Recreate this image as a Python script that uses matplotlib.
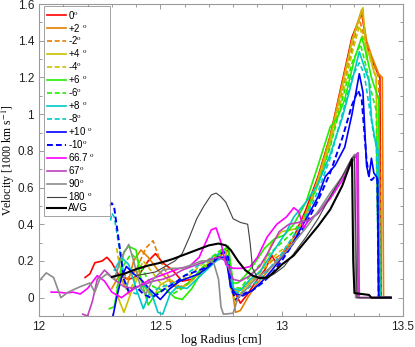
import matplotlib
matplotlib.use("Agg")
import matplotlib.pyplot as plt
from matplotlib.ticker import MultipleLocator, FuncFormatter

# ---- data (log radius [cm], velocity [1000 km/s]) ----
x_p0 = [12.19, 12.21, 12.23, 12.26, 12.28, 12.30, 12.33, 12.37, 12.41, 12.45, 12.48, 12.51, 12.55, 12.59, 12.63, 12.67, 12.71, 12.75, 12.78, 12.80, 12.83, 12.86, 12.90, 12.93, 12.96, 12.98, 13.00, 13.05, 13.10, 13.15, 13.20, 13.25, 13.29, 13.33, 13.35, 13.37, 13.39, 13.405, 13.41, 13.45]
y_p0 = [0.11, 0.13, 0.19, 0.20, 0.22, 0.19, 0.12, 0.10, 0.12, 0.20, 0.24, 0.19, 0.15, 0.09, 0.10, 0.15, 0.20, 0.24, 0.26, 0.05, -0.03, 0.02, 0.10, 0.15, 0.23, 0.18, 0.22, 0.33, 0.48, 0.66, 0.88, 1.18, 1.42, 1.55, 1.38, 1.30, 1.24, 1.20, 0.0, 0.0]

x_p2 = [12.30, 12.33, 12.36, 12.39, 12.42, 12.45, 12.49, 12.53, 12.57, 12.61, 12.65, 12.70, 12.74, 12.77, 12.79, 12.81, 12.83, 12.86, 12.90, 12.94, 12.98, 13.02, 13.06, 13.10, 13.15, 13.20, 13.25, 13.29, 13.33, 13.35, 13.37, 13.40, 13.415, 13.42, 13.45]
y_p2 = [0.05, 0.12, 0.05, 0.20, 0.26, 0.22, 0.15, 0.10, 0.05, 0.07, 0.12, 0.18, 0.22, 0.25, 0.10, -0.08, -0.07, 0.00, 0.08, 0.14, 0.20, 0.25, 0.33, 0.45, 0.65, 0.88, 1.17, 1.40, 1.57, 1.40, 1.32, 1.22, 1.20, 0.0, 0.0]

x_m2 = [12.33, 12.36, 12.40, 12.44, 12.47, 12.50, 12.54, 12.58, 12.62, 12.66, 12.70, 12.74, 12.77, 12.79, 12.81, 12.84, 12.88, 12.92, 12.96, 13.00, 13.05, 13.10, 13.15, 13.20, 13.25, 13.29, 13.32, 13.34, 13.37, 13.40, 13.41, 13.45]
y_m2 = [0.22, 0.10, 0.15, 0.27, 0.31, 0.20, 0.10, 0.06, 0.08, 0.13, 0.18, 0.22, 0.26, 0.10, 0.02, 0.05, 0.10, 0.15, 0.20, 0.24, 0.32, 0.44, 0.62, 0.84, 1.12, 1.36, 1.52, 1.42, 1.30, 1.20, 0.0, 0.0]

x_p4 = [12.32, 12.35, 12.38, 12.41, 12.44, 12.47, 12.50, 12.54, 12.58, 12.62, 12.66, 12.70, 12.74, 12.77, 12.79, 12.81, 12.84, 12.88, 12.92, 12.96, 13.00, 13.04, 13.07, 13.10, 13.15, 13.20, 13.25, 13.29, 13.335, 13.35, 13.36, 13.38, 13.39, 13.40, 13.45]
y_p4 = [0.02, -0.08, 0.03, 0.12, 0.05, 0.00, 0.07, 0.10, 0.05, 0.08, 0.14, 0.19, 0.23, 0.25, 0.05, -0.02, 0.04, 0.10, 0.16, 0.30, 0.36, 0.37, 0.38, 0.45, 0.64, 0.86, 1.15, 1.40, 1.58, 1.30, 1.34, 1.23, 1.20, 0.0, 0.0]

x_m4 = [12.32, 12.34, 12.37, 12.40, 12.43, 12.46, 12.50, 12.54, 12.58, 12.62, 12.66, 12.70, 12.74, 12.77, 12.79, 12.82, 12.86, 12.90, 12.94, 12.98, 13.02, 13.06, 13.10, 13.15, 13.20, 13.25, 13.29, 13.32, 13.34, 13.37, 13.39, 13.40, 13.45]
y_m4 = [0.27, 0.10, 0.02, 0.12, 0.20, 0.15, 0.08, 0.05, 0.09, 0.12, 0.17, 0.21, 0.24, 0.25, 0.08, 0.03, 0.07, 0.12, 0.18, 0.24, 0.28, 0.34, 0.45, 0.62, 0.83, 1.10, 1.33, 1.48, 1.40, 1.28, 1.20, 0.0, 0.0]

x_p6 = [12.29, 12.31, 12.33, 12.35, 12.37, 12.40, 12.42, 12.45, 12.48, 12.52, 12.56, 12.59, 12.63, 12.67, 12.71, 12.75, 12.78, 12.80, 12.82, 12.85, 12.89, 12.93, 12.97, 13.01, 13.05, 13.10, 13.15, 13.20, 13.23, 13.26, 13.30, 13.33, 13.35, 13.37, 13.39, 13.40, 13.405, 13.45]
y_p6 = [-0.06, -0.05, 0.10, 0.25, 0.28, 0.26, 0.10, -0.04, 0.02, 0.05, 0.00, -0.01, 0.05, 0.14, 0.19, 0.25, 0.28, 0.08, 0.08, 0.12, 0.19, 0.27, 0.32, 0.34, 0.40, 0.52, 0.72, 0.93, 0.98, 1.08, 1.30, 1.42, 1.32, 1.20, 1.12, 1.08, 0.0, 0.0]

x_m6 = [12.32, 12.35, 12.38, 12.41, 12.44, 12.47, 12.51, 12.55, 12.59, 12.63, 12.67, 12.71, 12.75, 12.78, 12.80, 12.83, 12.87, 12.91, 12.95, 13.00, 13.05, 13.10, 13.15, 13.20, 13.25, 13.29, 13.325, 13.35, 13.37, 13.39, 13.40, 13.45]
y_m6 = [0.05, 0.18, 0.24, 0.20, 0.12, 0.06, 0.04, 0.02, 0.05, 0.10, 0.16, 0.22, 0.26, 0.27, 0.06, 0.05, 0.12, 0.18, 0.24, 0.30, 0.36, 0.46, 0.62, 0.82, 1.08, 1.28, 1.38, 1.25, 1.12, 1.02, 0.0, 0.0]

x_p8 = [12.31, 12.34, 12.37, 12.40, 12.43, 12.46, 12.49, 12.51, 12.54, 12.57, 12.61, 12.65, 12.69, 12.73, 12.76, 12.78, 12.80, 12.83, 12.87, 12.91, 12.95, 12.99, 13.02, 13.05, 13.10, 13.15, 13.20, 13.25, 13.29, 13.32, 13.34, 13.36, 13.37, 13.39, 13.40, 13.405, 13.45]
y_p8 = [0.15, 0.22, 0.18, 0.05, -0.06, 0.04, -0.08, -0.09, 0.02, 0.06, 0.05, 0.10, 0.15, 0.20, 0.22, 0.18, 0.05, 0.04, 0.10, 0.14, 0.22, 0.30, 0.36, 0.44, 0.52, 0.62, 0.78, 0.98, 1.18, 1.34, 1.26, 1.18, 0.98, 0.82, 0.80, 0.0, 0.0]

x_m8 = [12.295, 12.30, 12.31, 12.33, 12.35, 12.37, 12.40, 12.43, 12.46, 12.49, 12.53, 12.57, 12.61, 12.65, 12.69, 12.73, 12.76, 12.78, 12.80, 12.83, 12.87, 12.91, 12.95, 13.00, 13.05, 13.10, 13.15, 13.20, 13.25, 13.29, 13.32, 13.34, 13.36, 13.38, 13.39, 13.40, 13.45]
y_m8 = [0.42, 0.46, 0.44, 0.28, 0.10, 0.04, 0.02, 0.07, 0.03, 0.05, 0.07, 0.09, 0.13, 0.17, 0.20, 0.23, 0.26, 0.20, 0.04, 0.02, 0.06, 0.10, 0.16, 0.24, 0.34, 0.44, 0.58, 0.76, 1.00, 1.20, 1.28, 1.22, 1.05, 0.88, 0.85, 0.0, 0.0]

x_p10 = [12.305, 12.32, 12.34, 12.36, 12.39, 12.42, 12.46, 12.50, 12.54, 12.58, 12.62, 12.66, 12.70, 12.74, 12.77, 12.79, 12.81, 12.84, 12.88, 12.92, 12.96, 13.00, 13.04, 13.08, 13.11, 13.15, 13.18, 13.22, 13.26, 13.29, 13.32, 13.335, 13.35, 13.36, 13.37, 13.38, 13.39, 13.395, 13.40, 13.45]
y_p10 = [-0.10, 0.00, 0.11, 0.17, 0.13, 0.10, 0.04, -0.01, 0.05, 0.09, 0.11, 0.13, 0.17, 0.22, 0.22, 0.06, 0.02, 0.01, 0.04, 0.09, 0.15, 0.22, 0.28, 0.38, 0.45, 0.55, 0.66, 0.72, 0.82, 1.00, 1.22, 1.12, 0.72, 0.66, 0.76, 0.68, 0.66, 0.65, 0.0, 0.0]

x_m10 = [12.29, 12.30, 12.31, 12.33, 12.35, 12.37, 12.40, 12.43, 12.46, 12.49, 12.52, 12.56, 12.60, 12.64, 12.68, 12.72, 12.76, 12.78, 12.79, 12.81, 12.84, 12.88, 12.92, 12.96, 13.00, 13.05, 13.10, 13.15, 13.20, 13.25, 13.29, 13.315, 13.33, 13.35, 13.36, 13.37, 13.385, 13.395, 13.40, 13.45]
y_m10 = [0.50, 0.515, 0.49, 0.30, 0.10, 0.03, 0.06, 0.02, 0.00, 0.02, 0.05, 0.08, 0.12, 0.14, 0.16, 0.20, 0.25, 0.22, 0.06, -0.01, 0.02, 0.04, 0.08, 0.13, 0.20, 0.30, 0.40, 0.53, 0.68, 0.87, 1.05, 1.13, 1.08, 0.75, 0.66, 0.64, 0.66, 0.64, 0.0, 0.0]

x_a667 = [12.05, 12.08, 12.11, 12.14, 12.17, 12.20, 12.24, 12.27, 12.30, 12.34, 12.38, 12.42, 12.46, 12.50, 12.54, 12.58, 12.62, 12.66, 12.69, 12.71, 12.73, 12.75, 12.77, 12.80, 12.84, 12.87, 12.90, 12.94, 12.98, 13.02, 13.05, 13.07, 13.09, 13.11, 13.15, 13.20, 13.25, 13.29, 13.31, 13.315, 13.45]
y_a667 = [0.03, 0.03, 0.025, 0.03, 0.02, 0.05, 0.12, 0.09, 0.03, 0.00, 0.04, 0.07, 0.10, 0.12, 0.14, 0.16, 0.17, 0.22, 0.31, 0.37, 0.38, 0.30, 0.18, 0.16, 0.16, 0.17, 0.22, 0.33, 0.40, 0.44, 0.49, 0.47, 0.38, 0.42, 0.46, 0.54, 0.64, 0.74, 0.78, 0.0, 0.0]

x_a67 = [12.18, 12.20, 12.22, 12.24, 12.27, 12.31, 12.35, 12.39, 12.43, 12.47, 12.51, 12.55, 12.59, 12.63, 12.67, 12.71, 12.74, 12.77, 12.80, 12.83, 12.87, 12.91, 12.95, 12.99, 13.03, 13.07, 13.11, 13.15, 13.20, 13.25, 13.29, 13.315, 13.32, 13.45]
y_a67 = [-0.09, -0.10, -0.02, 0.10, 0.15, 0.10, 0.06, 0.05, 0.07, 0.09, 0.10, 0.12, 0.15, 0.17, 0.19, 0.21, 0.22, 0.20, 0.10, 0.09, 0.12, 0.17, 0.26, 0.36, 0.40, 0.41, 0.42, 0.46, 0.55, 0.66, 0.76, 0.79, 0.0, 0.0]

x_a90 = [12.00, 12.03, 12.06, 12.09, 12.12, 12.17, 12.21, 12.23, 12.25, 12.28, 12.31, 12.34, 12.37, 12.39, 12.42, 12.44, 12.47, 12.51, 12.55, 12.59, 12.63, 12.67, 12.70, 12.72, 12.74, 12.75, 12.76, 12.80, 12.82, 12.85, 12.89, 12.93, 12.97, 13.01, 13.05, 13.10, 13.15, 13.20, 13.25, 13.29, 13.30, 13.305, 13.45]
y_a90 = [0.09, 0.135, 0.11, 0.00, 0.03, 0.06, 0.08, 0.03, 0.10, 0.13, 0.10, 0.22, 0.29, 0.20, 0.05, 0.02, 0.10, 0.15, 0.16, 0.16, 0.18, 0.20, 0.20, 0.19, 0.10, -0.05, -0.09, -0.085, 0.00, 0.04, 0.10, 0.14, 0.18, 0.24, 0.30, 0.38, 0.47, 0.57, 0.66, 0.76, 0.78, 0.0, 0.0]

x_a180 = [12.40, 12.44, 12.48, 12.52, 12.56, 12.59, 12.62, 12.65, 12.68, 12.71, 12.73, 12.75, 12.77, 12.80, 12.83, 12.86, 12.87, 12.88, 12.90, 12.93, 12.97, 13.01, 13.05, 13.10, 13.15, 13.20, 13.25, 13.29, 13.30, 13.31, 13.45]
y_a180 = [0.12, 0.13, 0.14, 0.17, 0.20, 0.24, 0.33, 0.43, 0.50, 0.56, 0.57, 0.55, 0.52, 0.43, 0.41, 0.40, 0.30, 0.16, 0.11, 0.10, 0.13, 0.17, 0.24, 0.33, 0.43, 0.55, 0.66, 0.76, 0.77, 0.0, 0.0]

x_avg = [12.30, 12.35, 12.40, 12.45, 12.50, 12.55, 12.60, 12.65, 12.70, 12.74, 12.77, 12.79, 12.82, 12.85, 12.88, 12.91, 12.94, 12.97, 13.00, 13.05, 13.10, 13.15, 13.20, 13.25, 13.29, 13.295, 13.30, 13.36, 13.37, 13.45]
y_avg = [0.113, 0.13, 0.155, 0.175, 0.19, 0.21, 0.235, 0.26, 0.285, 0.295, 0.285, 0.26, 0.20, 0.15, 0.12, 0.107, 0.11, 0.14, 0.18, 0.23, 0.31, 0.39, 0.48, 0.61, 0.755, 0.20, 0.025, 0.015, 0.0, 0.0]

labels = ["0$^{\\mathrm{o}}$", "+2 $^{\\mathrm{o}}$", "-2$^{\\mathrm{o}}$", "+4 $^{\\mathrm{o}}$", "-4$^{\\mathrm{o}}$",
          "+6 $^{\\mathrm{o}}$", "-6$^{\\mathrm{o}}$", "+8 $^{\\mathrm{o}}$", "-8$^{\\mathrm{o}}$", "+10 $^{\\mathrm{o}}$",
          "-10$^{\\mathrm{o}}$", "66.7 $^{\\mathrm{o}}$", "67$^{\\mathrm{o}}$", "90$^{\\mathrm{o}}$", "180 $^{\\mathrm{o}}$", "AVG"]

series = [(x_p0, y_p0), (x_p2, y_p2), (x_m2, y_m2), (x_p4, y_p4), (x_m4, y_m4),
          (x_p6, y_p6), (x_m6, y_m6), (x_p8, y_p8), (x_m8, y_m8), (x_p10, y_p10),
          (x_m10, y_m10), (x_a667, y_a667), (x_a67, y_a67), (x_a90, y_a90), (x_a180, y_a180), (x_avg, y_avg)]

colors = ["#ff0000", "#e67e00", "#e67e00", "#c8c000", "#c8c000", "#22ee00", "#22ee00",
          "#00c8c8", "#00c8c8", "#0000ff", "#0000ff", "#ff00ff", "#c040c0", "#8c8c8c", "#404040", "#000000"]
styles = ["-", "-", "--", "-", "--", "-", "--", "-", "--", "-", "--", "-", "-", "-", "-", "-"]
widths = [1.2, 1.2, 1.2, 1.2, 1.2, 1.2, 1.2, 1.2, 1.2, 1.2, 1.4, 1.2, 1.2, 1.2, 0.8, 1.5]

plt.rcParams["mathtext.fontset"] = "stix"
plt.rcParams["font.family"] = ["Liberation Sans", "DejaVu Sans"]
fig = plt.figure(figsize=(4.15, 3.47), dpi=100)
ax = fig.add_axes([0.094, 0.0893, 0.877, 0.899])

for (xs, ys), c, ls, lw, lab in zip(series, colors, styles, widths, labels):
    line, = ax.plot(xs, ys, color=c, lw=lw, ls=ls, label=lab)
    if ls == "--":
        line.set_dashes((3, 1.6))

ax.set_xlim(12, 13.5)
ax.set_ylim(-0.1, 1.6)
ax.xaxis.set_major_locator(MultipleLocator(0.5))
ax.xaxis.set_minor_locator(MultipleLocator(0.1))
ax.yaxis.set_major_locator(MultipleLocator(0.2))
ax.yaxis.set_minor_locator(MultipleLocator(0.1))
ax.yaxis.set_major_formatter(FuncFormatter(lambda v, p: "%g" % round(v, 2)))
ax.xaxis.set_major_formatter(FuncFormatter(lambda v, p: "%g" % round(v, 2)))
ax.tick_params(which="both", direction="in", top=True, right=True, color="#8c8c8c",
               labelsize=8.5, labelcolor="#222222")
ax.tick_params(which="major", length=3.5, width=0.6)
ax.tick_params(which="minor", length=2, width=0.6)
for sp in ax.spines.values():
    sp.set_color("#9a9a9a")
    sp.set_linewidth(0.8)

ax.set_xlabel("log Radius [cm]", family="Liberation Serif", fontsize=9, labelpad=1)
ax.set_ylabel("Velocity [1000 km s$^{-1}$]", family="Liberation Serif", fontsize=8.5)
ax.yaxis.set_label_coords(-0.06, 0.5)

leg = ax.legend(loc="upper left", bbox_to_anchor=(0.013, 0.3, 0.182, 0.695), mode="expand",
                fontsize=7, frameon=True,
                fancybox=False, edgecolor="#8c8c8c", handlelength=2.0, handletextpad=0.15,
                labelspacing=0.1, borderpad=0.3, borderaxespad=0.0)
leg.get_frame().set_linewidth(0.7)

fig.savefig("out.png", dpi=100)
